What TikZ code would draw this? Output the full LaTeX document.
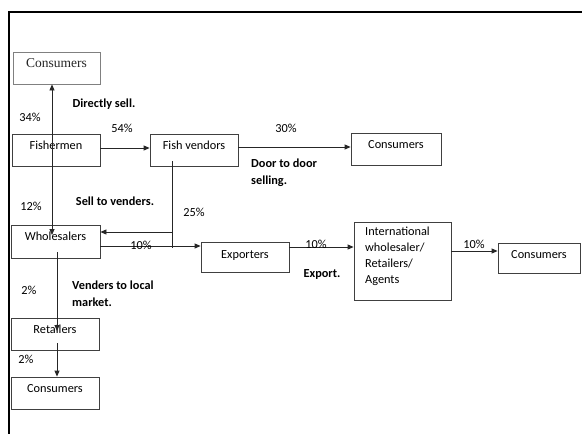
\documentclass[tikz,border=0pt]{standalone}
\usepackage{fontspec}
\setmainfont{Carlito}
\newfontfamily\serifx{Liberation Serif}
\usetikzlibrary{arrows.meta}
\begin{document}
\begin{tikzpicture}[x=1pt,y=-1pt,
  box/.style={draw=black!75,line width=0.8pt,inner sep=0pt,font=\fontsize{12.3}{15}\selectfont,text height=9pt,text depth=10.5pt,minimum height=32},
  lbl/.style={inner sep=0pt,font=\fontsize{12.3}{15}\selectfont},
  blbl/.style={inner sep=0pt,font=\fontsize{12.3}{17}\selectfont\bfseries,align=left},
  ln/.style={draw=black!85,line width=0.8pt},
  arr/.style={ln,-{Triangle[length=6pt,width=5pt]}}]
\useasboundingbox (0,0) rectangle (582,434);
\fill[white] (0,0) rectangle (582,434);
% frame
\draw[line width=2pt,black] (582,12) -- (9,12) -- (9,434);
% boxes
\node[box,draw=black!50,minimum width=87,font=\fontsize{13.5}{15}\selectfont\serifx,text=black!85] (ctop) at (56.5,68) {Consumers};
\node[box,minimum width=88] (fish) at (56,150) {Fishermen};
\node[box,minimum width=88] (fv) at (194,150) {Fish vendors};
\node[box,minimum width=90] (cfv) at (396,149) {Consumers};
\node[box,minimum width=89,minimum height=33] (whole) at (55.5,241.5) {Wholesalers};
\node[box,minimum width=88,minimum height=30,text depth=7pt] (exp) at (245,257) {Exporters};
\node[box,minimum width=97,minimum height=78,text depth=0pt,text height=0pt,align=left] (intl) at (402.5,261) {};
\node[lbl,anchor=north west,align=left,font=\fontsize{12.3}{16}\selectfont] (intlt) at (365,227) {International\\wholesaler/\\Retailers/\\Agents};
\node[box,minimum width=82,minimum height=30,text depth=9pt] (cr) at (539,258) {Consumers};
\node[box,minimum width=88] (ret) at (55,334) {Retailers};
\node[box,minimum width=88] (cb) at (55,393) {Consumers};
% connectors
\coordinate (f1) at (52,158);
\coordinate (f2) at (52,235);
\draw[arr] (f1) -- (f1 |- ctop.south);
\draw[arr] (f1) -- (f2);
\coordinate (fa) at (100,148);
\draw[arr] (fa) -- (fa -| fv.west);
\coordinate (fb) at (238,147);
\draw[arr] (fb) -- (fb -| cfv.west);
\coordinate (v1) at (172,161);
\coordinate (v2) at (172,248);
\coordinate (v3) at (172,232);
\draw[ln] (v1) -- (v2);
\draw[arr] (v3) -- (v3 -| whole.east);
\coordinate (w1) at (100,246);
\draw[arr] (w1) -- (w1 -| exp.west);
\coordinate (w2) at (57,252);
\coordinate (w3) at (57,331);
\draw[arr] (w2) -- (w3);
\coordinate (r1) at (57,343);
\draw[arr] (r1) -- (r1 |- cb.north);
\coordinate (e1) at (289,247);
\draw[arr] (e1) -- (e1 -| intl.west);
\coordinate (i1) at (451,251);
\draw[arr] (i1) -- (i1 -| cr.west);
% labels
\node[blbl] (l1) at (104,104) {Directly sell.};
\node[lbl] (l2) at (30,117) {34\%};
\node[lbl] (l3) at (122,128) {54\%};
\node[lbl] (l4) at (286,128) {30\%};
\node[blbl,anchor=west] (l5) at (251,172.5) {Door to door\\selling.};
\node[lbl] (l6) at (31,206) {12\%};
\node[blbl] (l7) at (115,201) {Sell to venders.};
\node[lbl] (l8) at (194,212) {25\%};
\node[lbl] (l9) at (141,245) {10\%};
\node[lbl] (l10) at (29,290) {2\%};
\node[blbl,anchor=west] (l11) at (72,293.5) {Venders to local\\market.};
\node[lbl] (l12) at (26,359) {2\%};
\node[lbl] (l13) at (316,244) {10\%};
\node[blbl] (l14) at (322,274) {Export.};
\node[lbl] (l15) at (474,244) {10\%};
\end{tikzpicture}
\end{document}
